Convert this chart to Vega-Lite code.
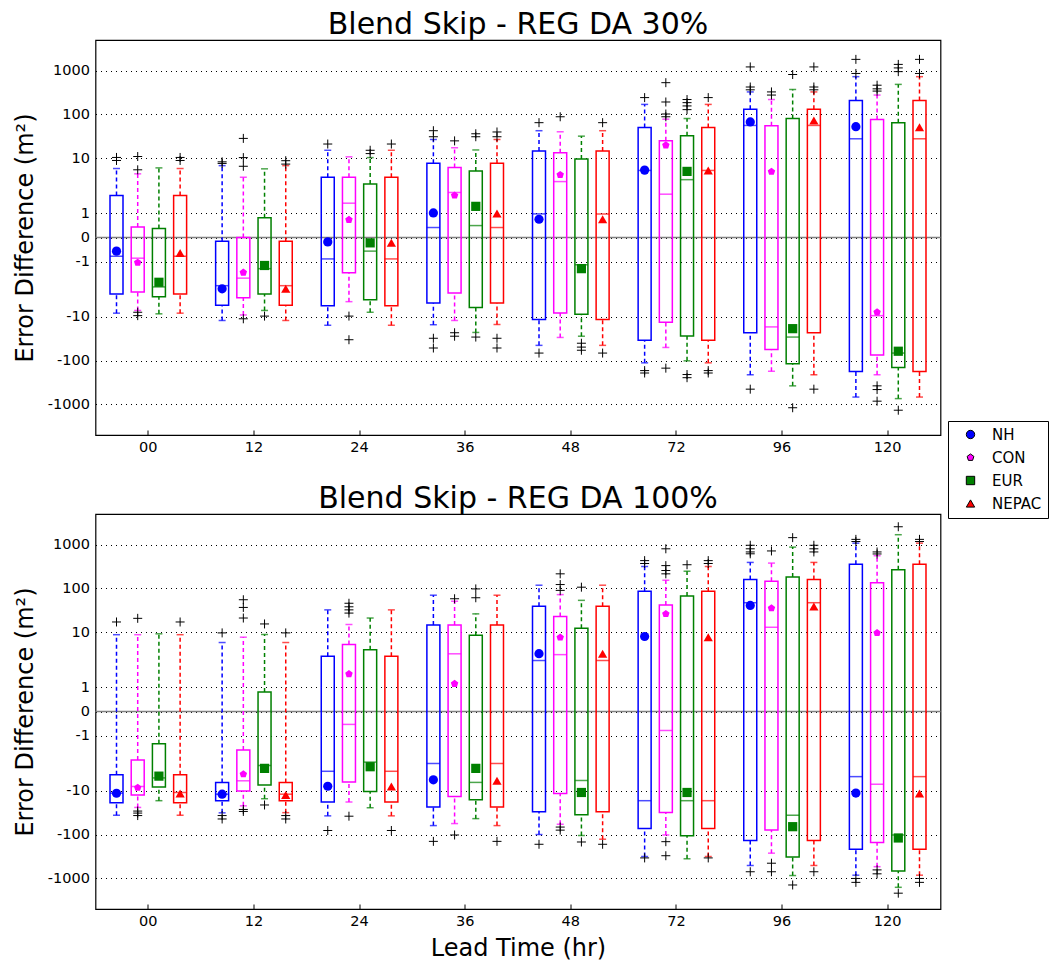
{
  "$schema": "https://vega.github.io/schema/vega-lite/v6.json",
  "background": "white",
  "padding": {"left": 12.5, "top": 9, "right": 112, "bottom": 0},
  "spacing": 28,
  "datasets": {
    "boxes": [
      {"p":"30","t":"00","r":"NH","lo":-8.4,"q1":-3.0,"med":-0.77,"q3":1.73,"hi":5.9,"mean":-0.56},
      {"p":"30","t":"00","r":"CON","lo":-7.2,"q1":-2.74,"med":-0.85,"q3":0.43,"hi":4.5,"mean":-1.03},
      {"p":"30","t":"00","r":"EUR","lo":-8.7,"q1":-3.6,"med":-2.1,"q3":0.37,"hi":6.1,"mean":-1.84},
      {"p":"30","t":"00","r":"NEPAC","lo":-8.4,"q1":-3.0,"med":-0.77,"q3":1.73,"hi":5.9,"mean":-0.64},
      {"p":"30","t":"12","r":"NH","lo":-12.4,"q1":-5.5,"med":-1.98,"q3":-0.15,"hi":6.8,"mean":-2.34},
      {"p":"30","t":"12","r":"CON","lo":-9.2,"q1":-3.8,"med":-1.67,"q3":0.0,"hi":3.8,"mean":-1.44},
      {"p":"30","t":"12","r":"EUR","lo":-7.2,"q1":-3.0,"med":-1.28,"q3":0.81,"hi":5.8,"mean":-1.15},
      {"p":"30","t":"12","r":"NEPAC","lo":-12.4,"q1":-5.5,"med":-1.98,"q3":-0.15,"hi":6.8,"mean":-2.34},
      {"p":"30","t":"24","r":"NH","lo":-15.7,"q1":-5.7,"med":-0.88,"q3":3.8,"hi":15.2,"mean":-0.18},
      {"p":"30","t":"24","r":"CON","lo":-4.6,"q1":-1.45,"med":1.41,"q3":3.8,"hi":10.9,"mean":0.73},
      {"p":"30","t":"24","r":"EUR","lo":-8.0,"q1":-4.2,"med":-0.56,"q3":2.64,"hi":10.4,"mean":-0.22},
      {"p":"30","t":"24","r":"NEPAC","lo":-15.7,"q1":-5.7,"med":-0.88,"q3":3.8,"hi":15.2,"mean":-0.22},
      {"p":"30","t":"36","r":"NH","lo":-15.2,"q1":-4.9,"med":0.41,"q3":7.8,"hi":27.2,"mean":1.01},
      {"p":"30","t":"36","r":"CON","lo":-12.4,"q1":-2.9,"med":1.85,"q3":6.2,"hi":17.5,"mean":1.73},
      {"p":"30","t":"36","r":"EUR","lo":-23.2,"q1":-6.2,"med":0.49,"q3":5.1,"hi":15.5,"mean":1.28},
      {"p":"30","t":"36","r":"NEPAC","lo":-15.0,"q1":-4.9,"med":0.41,"q3":7.8,"hi":27.2,"mean":0.99},
      {"p":"30","t":"48","r":"NH","lo":-45.8,"q1":-11.7,"med":0.97,"q3":14.7,"hi":43.6,"mean":0.75},
      {"p":"30","t":"48","r":"CON","lo":-29.7,"q1":-8.3,"med":2.94,"q3":13.5,"hi":41.4,"mean":4.3},
      {"p":"30","t":"48","r":"EUR","lo":-28.1,"q1":-8.9,"med":-1.12,"q3":9.7,"hi":32.4,"mean":-1.28},
      {"p":"30","t":"48","r":"NEPAC","lo":-45.8,"q1":-11.7,"med":0.97,"q3":14.7,"hi":43.6,"mean":0.75},
      {"p":"30","t":"72","r":"NH","lo":-114.6,"q1":-35.4,"med":5.3,"q3":50.2,"hi":171,"mean":5.4},
      {"p":"30","t":"72","r":"CON","lo":-50.2,"q1":-13.5,"med":1.78,"q3":25.4,"hi":79,"mean":19.8},
      {"p":"30","t":"72","r":"EUR","lo":-101.6,"q1":-27.7,"med":3.3,"q3":33,"hi":81.9,"mean":5.0},
      {"p":"30","t":"72","r":"NEPAC","lo":-114.6,"q1":-35.4,"med":5.3,"q3":50.2,"hi":171,"mean":5.3},
      {"p":"30","t":"96","r":"NH","lo":-213,"q1":-23.6,"med":56.8,"q3":134,"hi":333,"mean":67.7},
      {"p":"30","t":"96","r":"CON","lo":-177,"q1":-56.8,"med":-17.2,"q3":55.8,"hi":222,"mean":4.96},
      {"p":"30","t":"96","r":"EUR","lo":-390,"q1":-120.8,"med":-29.2,"q3":81.9,"hi":383,"mean":-18.8},
      {"p":"30","t":"96","r":"NEPAC","lo":-213,"q1":-23.6,"med":56.8,"q3":134,"hi":333,"mean":72.6},
      {"p":"30","t":"120","r":"NH","lo":-683,"q1":-180,"med":28.1,"q3":210,"hi":732,"mean":52.9},
      {"p":"30","t":"120","r":"CON","lo":-213,"q1":-75,"med":-9.5,"q3":77.7,"hi":280,"mean":-8.0},
      {"p":"30","t":"120","r":"EUR","lo":-745,"q1":-145,"med":-67.7,"q3":65.4,"hi":488,"mean":-62},
      {"p":"30","t":"120","r":"NEPAC","lo":-683,"q1":-180,"med":28.1,"q3":210,"hi":732,"mean":51.1},
      {"p":"100","t":"00","r":"NH","lo":-37.3,"q1":-18.8,"med":-11.5,"q3":-4.4,"hi":8.9,"mean":-11.6},
      {"p":"100","t":"00","r":"CON","lo":-24.5,"q1":-12.8,"med":-8.1,"q3":-1.99,"hi":8.9,"mean":-8.6},
      {"p":"100","t":"00","r":"EUR","lo":-17.0,"q1":-8.3,"med":-5.1,"q3":-1.33,"hi":9.3,"mean":-4.7},
      {"p":"100","t":"00","r":"NEPAC","lo":-37.3,"q1":-18.8,"med":-11.1,"q3":-4.4,"hi":8.9,"mean":-11.7},
      {"p":"100","t":"12","r":"NH","lo":-32.4,"q1":-17.0,"med":-12.2,"q3":-6.5,"hi":5.9,"mean":-12.2},
      {"p":"100","t":"12","r":"CON","lo":-22.4,"q1":-10.2,"med":-6.0,"q3":-1.58,"hi":7.8,"mean":-4.3},
      {"p":"100","t":"12","r":"EUR","lo":-15.2,"q1":-7.4,"med":-2.69,"q3":0.8,"hi":9.0,"mean":-3.1},
      {"p":"100","t":"12","r":"NEPAC","lo":-32.0,"q1":-17.0,"med":-12.2,"q3":-6.5,"hi":5.9,"mean":-12.8},
      {"p":"100","t":"24","r":"NH","lo":-38.6,"q1":-18.2,"med":-3.7,"q3":2.85,"hi":33.0,"mean":-8.0},
      {"p":"100","t":"24","r":"CON","lo":-18.2,"q1":-6.4,"med":-0.53,"q3":5.3,"hi":15.0,"mean":1.54},
      {"p":"100","t":"24","r":"EUR","lo":-24.9,"q1":-10.4,"med":-2.25,"q3":4.1,"hi":21.3,"mean":-2.85},
      {"p":"100","t":"24","r":"NEPAC","lo":-38.6,"q1":-18.2,"med":-3.7,"q3":2.85,"hi":33.0,"mean":-8.1},
      {"p":"100","t":"36","r":"NH","lo":-63.1,"q1":-24.0,"med":-2.43,"q3":14.7,"hi":70,"mean":-5.7},
      {"p":"100","t":"36","r":"CON","lo":-56.8,"q1":-13.7,"med":3.27,"q3":14.7,"hi":51.1,"mean":1.14},
      {"p":"100","t":"36","r":"EUR","lo":-44.3,"q1":-16.1,"med":-6.5,"q3":8.7,"hi":26.7,"mean":-3.1},
      {"p":"100","t":"36","r":"NEPAC","lo":-63.1,"q1":-24.0,"med":-2.43,"q3":14.7,"hi":70,"mean":-6.0},
      {"p":"100","t":"48","r":"NH","lo":-99.8,"q1":-30.2,"med":2.3,"q3":40.6,"hi":120.8,"mean":3.3},
      {"p":"100","t":"48","r":"CON","lo":-58.9,"q1":-11.7,"med":3.1,"q3":23.2,"hi":72.6,"mean":7.7},
      {"p":"100","t":"48","r":"EUR","lo":-106,"q1":-36.1,"med":-5.9,"q3":12.6,"hi":53.9,"mean":-11.1},
      {"p":"100","t":"48","r":"NEPAC","lo":-130,"q1":-30.2,"med":2.3,"q3":40.6,"hi":120.8,"mean":3.3},
      {"p":"100","t":"72","r":"NH","lo":-321,"q1":-72.6,"med":-17.0,"q3":88,"hi":321,"mean":8.1},
      {"p":"100","t":"72","r":"CON","lo":-102.7,"q1":-31.9,"med":-0.78,"q3":42.9,"hi":154,"mean":26.7},
      {"p":"100","t":"72","r":"EUR","lo":-368,"q1":-108,"med":-17.0,"q3":67.7,"hi":252,"mean":-11.1},
      {"p":"100","t":"72","r":"NEPAC","lo":-321,"q1":-72.6,"med":-17.0,"q3":88,"hi":321,"mean":7.8},
      {"p":"100","t":"96","r":"NH","lo":-509,"q1":-139,"med":47.7,"q3":162,"hi":405,"mean":42.1},
      {"p":"100","t":"96","r":"CON","lo":-270,"q1":-79.3,"med":13.2,"q3":146,"hi":391,"mean":36.6},
      {"p":"100","t":"96","r":"EUR","lo":-874,"q1":-333,"med":-37.3,"q3":183,"hi":890,"mean":-66.5},
      {"p":"100","t":"96","r":"NEPAC","lo":-509,"q1":-139,"med":47.7,"q3":162,"hi":405,"mean":40},
      {"p":"100","t":"120","r":"NH","lo":-859,"q1":-218,"med":-4.8,"q3":368,"hi":1094,"mean":-11.5},
      {"p":"100","t":"120","r":"CON","lo":-546,"q1":-151,"med":-7.1,"q3":137,"hi":565,"mean":9.7},
      {"p":"100","t":"120","r":"EUR","lo":-1610,"q1":-683,"med":-102.7,"q3":270,"hi":1700,"mean":-122},
      {"p":"100","t":"120","r":"NEPAC","lo":-859,"q1":-218,"med":-4.8,"q3":368,"hi":1094,"mean":-11.8}
    ],
    "outliers": [
      {"p":"30","t":"00","r":"NH","v":10.5},{"p":"30","t":"00","r":"NH","v":9.0},
      {"p":"30","t":"00","r":"CON","v":11.1},{"p":"30","t":"00","r":"CON","v":5.5},{"p":"30","t":"00","r":"CON","v":-8.0},{"p":"30","t":"00","r":"CON","v":-9.5},
      {"p":"30","t":"00","r":"NEPAC","v":10.5},{"p":"30","t":"00","r":"NEPAC","v":9.0},
      {"p":"30","t":"12","r":"NH","v":8.4},{"p":"30","t":"12","r":"NH","v":7.7},
      {"p":"30","t":"12","r":"CON","v":28.6},{"p":"30","t":"12","r":"CON","v":10.4},{"p":"30","t":"12","r":"CON","v":6.6},{"p":"30","t":"12","r":"CON","v":-11.3},
      {"p":"30","t":"12","r":"EUR","v":-9.7},
      {"p":"30","t":"12","r":"NEPAC","v":8.9},{"p":"30","t":"12","r":"NEPAC","v":7.4},
      {"p":"30","t":"24","r":"NH","v":21.3},
      {"p":"30","t":"24","r":"CON","v":-9.7},{"p":"30","t":"24","r":"CON","v":-34.2},
      {"p":"30","t":"24","r":"EUR","v":15.2},{"p":"30","t":"24","r":"EUR","v":13.0},
      {"p":"30","t":"24","r":"NEPAC","v":21.3},
      {"p":"30","t":"36","r":"NH","v":43.6},{"p":"30","t":"36","r":"NH","v":31.2},{"p":"30","t":"36","r":"NH","v":-31.2},{"p":"30","t":"36","r":"NH","v":-51.9},
      {"p":"30","t":"36","r":"CON","v":25.4},{"p":"30","t":"36","r":"CON","v":-23.6},{"p":"30","t":"36","r":"CON","v":-28.1},
      {"p":"30","t":"36","r":"EUR","v":37.3},{"p":"30","t":"36","r":"EUR","v":31.2},{"p":"30","t":"36","r":"EUR","v":-29.2},
      {"p":"30","t":"36","r":"NEPAC","v":41.0},{"p":"30","t":"36","r":"NEPAC","v":31.2},{"p":"30","t":"36","r":"NEPAC","v":-31.2},{"p":"30","t":"36","r":"NEPAC","v":-51.9},
      {"p":"30","t":"48","r":"NH","v":65.4},{"p":"30","t":"48","r":"NH","v":-67.7},
      {"p":"30","t":"48","r":"CON","v":89.6},
      {"p":"30","t":"48","r":"EUR","v":-41.4},{"p":"30","t":"48","r":"EUR","v":-49.4},{"p":"30","t":"48","r":"EUR","v":-58.9},
      {"p":"30","t":"48","r":"NEPAC","v":65.4},{"p":"30","t":"48","r":"NEPAC","v":-67.7},
      {"p":"30","t":"72","r":"NH","v":247},{"p":"30","t":"72","r":"NH","v":-171},{"p":"30","t":"72","r":"NH","v":-193},
      {"p":"30","t":"72","r":"CON","v":535},{"p":"30","t":"72","r":"CON","v":193},{"p":"30","t":"72","r":"CON","v":102.7},{"p":"30","t":"72","r":"CON","v":89.6},{"p":"30","t":"72","r":"CON","v":-149},
      {"p":"30","t":"72","r":"EUR","v":222},{"p":"30","t":"72","r":"EUR","v":187},{"p":"30","t":"72","r":"EUR","v":157},{"p":"30","t":"72","r":"EUR","v":131},{"p":"30","t":"72","r":"EUR","v":-210},{"p":"30","t":"72","r":"EUR","v":-251},
      {"p":"30","t":"72","r":"NEPAC","v":247},{"p":"30","t":"72","r":"NEPAC","v":-171},{"p":"30","t":"72","r":"NEPAC","v":-193},
      {"p":"30","t":"96","r":"NH","v":1239},{"p":"30","t":"96","r":"NH","v":434},{"p":"30","t":"96","r":"NH","v":376},{"p":"30","t":"96","r":"NH","v":-458},
      {"p":"30","t":"96","r":"CON","v":333},{"p":"30","t":"96","r":"CON","v":280},
      {"p":"30","t":"96","r":"EUR","v":828},{"p":"30","t":"96","r":"EUR","v":-1218},
      {"p":"30","t":"96","r":"NEPAC","v":1239},{"p":"30","t":"96","r":"NEPAC","v":434},{"p":"30","t":"96","r":"NEPAC","v":376},{"p":"30","t":"96","r":"NEPAC","v":-458},
      {"p":"30","t":"120","r":"NH","v":1823},{"p":"30","t":"120","r":"NH","v":874},
      {"p":"30","t":"120","r":"CON","v":471},{"p":"30","t":"120","r":"CON","v":396},{"p":"30","t":"120","r":"CON","v":350},{"p":"30","t":"120","r":"CON","v":-390},{"p":"30","t":"120","r":"CON","v":-466},{"p":"30","t":"120","r":"CON","v":-858},
      {"p":"30","t":"120","r":"EUR","v":1403},{"p":"30","t":"120","r":"EUR","v":1175},{"p":"30","t":"120","r":"EUR","v":955},{"p":"30","t":"120","r":"EUR","v":-1378},
      {"p":"30","t":"120","r":"NEPAC","v":1823},{"p":"30","t":"120","r":"NEPAC","v":874},
      {"p":"100","t":"00","r":"NH","v":17.3},
      {"p":"100","t":"00","r":"CON","v":20.9},{"p":"100","t":"00","r":"CON","v":-29.2},{"p":"100","t":"00","r":"CON","v":-32.9},{"p":"100","t":"00","r":"CON","v":-38.0},
      {"p":"100","t":"00","r":"NEPAC","v":17.3},
      {"p":"100","t":"12","r":"NH","v":9.7},{"p":"100","t":"12","r":"NH","v":-38.0},{"p":"100","t":"12","r":"NH","v":-45.0},
      {"p":"100","t":"12","r":"CON","v":55.8},{"p":"100","t":"12","r":"CON","v":38.0},{"p":"100","t":"12","r":"CON","v":21.3},{"p":"100","t":"12","r":"CON","v":-27.1},{"p":"100","t":"12","r":"CON","v":-29.7},
      {"p":"100","t":"12","r":"EUR","v":15.5},{"p":"100","t":"12","r":"EUR","v":-21.3},
      {"p":"100","t":"12","r":"NEPAC","v":9.7},{"p":"100","t":"12","r":"NEPAC","v":-38.0},{"p":"100","t":"12","r":"NEPAC","v":-45.0},
      {"p":"100","t":"24","r":"NH","v":-81.9},
      {"p":"100","t":"24","r":"CON","v":46.6},{"p":"100","t":"24","r":"CON","v":39.3},{"p":"100","t":"24","r":"CON","v":33.0},{"p":"100","t":"24","r":"CON","v":27.7},{"p":"100","t":"24","r":"CON","v":-39.3},
      {"p":"100","t":"24","r":"NEPAC","v":-81.9},
      {"p":"100","t":"36","r":"NH","v":-144},
      {"p":"100","t":"36","r":"CON","v":58.9},{"p":"100","t":"36","r":"CON","v":-102.7},
      {"p":"100","t":"36","r":"EUR","v":97.8},{"p":"100","t":"36","r":"EUR","v":62.0},
      {"p":"100","t":"36","r":"NEPAC","v":-144},
      {"p":"100","t":"48","r":"NH","v":-168},
      {"p":"100","t":"48","r":"CON","v":218},{"p":"100","t":"48","r":"CON","v":125},{"p":"100","t":"48","r":"CON","v":91.3},{"p":"100","t":"48","r":"CON","v":-67.7},{"p":"100","t":"48","r":"CON","v":-80.3},
      {"p":"100","t":"48","r":"EUR","v":108},{"p":"100","t":"48","r":"EUR","v":-148},
      {"p":"100","t":"48","r":"NEPAC","v":-168},
      {"p":"100","t":"72","r":"NH","v":442},{"p":"100","t":"72","r":"NH","v":383},{"p":"100","t":"72","r":"NH","v":-350},
      {"p":"100","t":"72","r":"CON","v":815},{"p":"100","t":"72","r":"CON","v":339},{"p":"100","t":"72","r":"CON","v":261},{"p":"100","t":"72","r":"CON","v":218},{"p":"100","t":"72","r":"CON","v":-146},{"p":"100","t":"72","r":"CON","v":-305},
      {"p":"100","t":"72","r":"EUR","v":357},
      {"p":"100","t":"72","r":"NEPAC","v":442},{"p":"100","t":"72","r":"NEPAC","v":383},{"p":"100","t":"72","r":"NEPAC","v":-350},
      {"p":"100","t":"96","r":"NH","v":971},{"p":"100","t":"96","r":"NH","v":815},{"p":"100","t":"96","r":"NH","v":683},{"p":"100","t":"96","r":"NH","v":625},{"p":"100","t":"96","r":"NH","v":-707},
      {"p":"100","t":"96","r":"CON","v":720},{"p":"100","t":"96","r":"CON","v":-459},{"p":"100","t":"96","r":"CON","v":-707},
      {"p":"100","t":"96","r":"EUR","v":1452},{"p":"100","t":"96","r":"EUR","v":-1428},
      {"p":"100","t":"96","r":"NEPAC","v":971},{"p":"100","t":"96","r":"NEPAC","v":815},{"p":"100","t":"96","r":"NEPAC","v":683},{"p":"100","t":"96","r":"NEPAC","v":-707},
      {"p":"100","t":"120","r":"NH","v":1340},{"p":"100","t":"120","r":"NH","v":1200},{"p":"100","t":"120","r":"NH","v":-1005},{"p":"100","t":"120","r":"NH","v":-1258},
      {"p":"100","t":"120","r":"CON","v":683},{"p":"100","t":"120","r":"CON","v":620},{"p":"100","t":"120","r":"CON","v":-647},{"p":"100","t":"120","r":"CON","v":-799},
      {"p":"100","t":"120","r":"EUR","v":2606},{"p":"100","t":"120","r":"EUR","v":-2208},
      {"p":"100","t":"120","r":"NEPAC","v":1340},{"p":"100","t":"120","r":"NEPAC","v":1200},{"p":"100","t":"120","r":"NEPAC","v":-1005},{"p":"100","t":"120","r":"NEPAC","v":-1258}
    ],
    "zero": [{"z": 0}]
  },
  "resolve": {"scale": {"color": "shared", "shape": "shared", "stroke": "shared", "fill": "shared"}, "legend": {"color": "shared", "shape": "shared"}},
  "vconcat": [
    {
      "width": 845, "height": 395,
      "title": {"text": "Blend Skip - REG DA 30%", "frame": "group", "anchor": "middle", "baseline": "bottom", "offset": -30},
      "layer": [
        {"data": {"name": "zero"}, "mark": {"type": "rule", "color": "#808080", "strokeWidth": 1.3},
         "encoding": {"y": {"field": "z", "type": "quantitative", "title": "Error Difference (m²)",
           "scale": {"domain": [-5000,-3000,-2000,-1500,-1000,-700,-500,-300,-200,-150,-100,-70,-50,-30,-20,-15,-10,-7,-5,-3,-2,0,2,3,5,7,10,15,20,30,50,70,100,150,200,300,500,700,1000,1500,2000,3000,5000],
             "range": [395,385.28,377.57,372.1,364.38,357.6,351.2,341.48,333.77,328.3,320.58,313.8,307.4,297.68,289.97,284.5,276.78,270,263.6,253.88,246.17,197.5,148.83,141.12,131.4,125,118.22,110.5,105.03,97.32,87.6,81.2,74.42,66.7,61.23,53.52,43.8,37.4,30.62,22.9,17.43,9.72,0],
             "nice": false, "zero": false, "clamp": true},
           "axis": {"values": [-1000,-100,-10,-1,0,1,10,100,1000], "labelExpr": "'' + datum.value"}}}},
        {"data": {"name": "boxes"}, "transform": [{"filter": "datum.p == '30'"}],
         "mark": {"type": "rule", "strokeDash": [4, 3], "strokeWidth": 1.5},
         "encoding": {
           "x": {"field": "t", "type": "nominal", "title": null, "scale": {"domain": ["00","12","24","36","48","72","96","120"], "paddingInner": 0, "paddingOuter": 0}},
           "xOffset": {"field": "r", "type": "nominal", "scale": {"domain": ["NH","CON","EUR","NEPAC"], "paddingInner": 0.387, "paddingOuter": 0.684}},
           "y": {"field": "lo", "type": "quantitative", "title": "Error Difference (m²)"}, "y2": {"field": "q1"},
           "stroke": {"field": "r", "type": "nominal", "scale": {"range": ["#ff00ff","#008000","#ff0000","#0000ff"]}, "legend": null}}},
        {"data": {"name": "boxes"}, "transform": [{"filter": "datum.p == '30'"}],
         "mark": {"type": "rule", "strokeDash": [4, 3], "strokeWidth": 1.5},
         "encoding": {
           "x": {"field": "t", "type": "nominal", "title": null},
           "xOffset": {"field": "r", "type": "nominal"},
           "y": {"field": "q3", "type": "quantitative", "title": "Error Difference (m²)"}, "y2": {"field": "hi"},
           "stroke": {"field": "r", "type": "nominal", "legend": null}}},
        {"data": {"name": "boxes"}, "transform": [{"filter": "datum.p == '30'"}],
         "mark": {"type": "tick", "orient": "horizontal", "size": 7, "thickness": 1.5},
         "encoding": {
           "x": {"field": "t", "type": "nominal", "title": null},
           "xOffset": {"field": "r", "type": "nominal"},
           "y": {"field": "lo", "type": "quantitative", "title": "Error Difference (m²)"},
           "fill": {"field": "r", "type": "nominal", "scale": {"range": ["#ff00ff","#008000","#ff0000","#0000ff"]}, "legend": null}}},
        {"data": {"name": "boxes"}, "transform": [{"filter": "datum.p == '30'"}],
         "mark": {"type": "tick", "orient": "horizontal", "size": 7, "thickness": 1.5},
         "encoding": {
           "x": {"field": "t", "type": "nominal", "title": null},
           "xOffset": {"field": "r", "type": "nominal"},
           "y": {"field": "hi", "type": "quantitative", "title": "Error Difference (m²)"},
           "fill": {"field": "r", "type": "nominal", "legend": null}}},
        {"data": {"name": "boxes"}, "transform": [{"filter": "datum.p == '30'"}],
         "mark": {"type": "bar", "fill": "transparent", "strokeWidth": 1.5},
         "encoding": {
           "x": {"field": "t", "type": "nominal", "title": null},
           "xOffset": {"field": "r", "type": "nominal"},
           "y": {"field": "q1", "type": "quantitative", "title": "Error Difference (m²)"}, "y2": {"field": "q3"},
           "stroke": {"field": "r", "type": "nominal", "legend": null}}},
        {"data": {"name": "boxes"}, "transform": [{"filter": "datum.p == '30'"}],
         "mark": {"type": "tick", "orient": "horizontal", "size": 13, "thickness": 1.5},
         "encoding": {
           "x": {"field": "t", "type": "nominal", "title": null},
           "xOffset": {"field": "r", "type": "nominal"},
           "y": {"field": "med", "type": "quantitative", "title": "Error Difference (m²)"},
           "fill": {"field": "r", "type": "nominal", "legend": null}}},
        {"data": {"name": "outliers"}, "transform": [{"filter": "datum.p == '30'"}],
         "mark": {"type": "point", "shape": "M-1,0L1,0M0,-1L0,1", "filled": false, "color": "black", "strokeWidth": 1, "size": 81, "opacity": 1},
         "encoding": {
           "x": {"field": "t", "type": "nominal", "title": null},
           "xOffset": {"field": "r", "type": "nominal"},
           "y": {"field": "v", "type": "quantitative", "title": "Error Difference (m²)"}}},
        {"data": {"name": "boxes"}, "transform": [{"filter": "datum.p == '30'"}],
         "mark": {"type": "point", "filled": true, "size": 85, "opacity": 1},
         "encoding": {
           "x": {"field": "t", "type": "nominal", "title": null},
           "xOffset": {"field": "r", "type": "nominal"},
           "y": {"field": "mean", "type": "quantitative", "title": "Error Difference (m²)"},
           "color": {"field": "r", "type": "nominal", "title": null, "scale": {"domain": ["NH","CON","EUR","NEPAC"], "range": ["#0000ff","#ff00ff","#008000","#ff0000"]}},
           "shape": {"field": "r", "type": "nominal", "title": null, "scale": {"domain": ["NH","CON","EUR","NEPAC"], "range": ["circle", "M0,-0.85L0.808,-0.263L0.5,0.688L-0.5,0.688L-0.808,-0.263Z", "square", "triangle-up"]}}}}
      ]
    },
    {
      "width": 845, "height": 395,
      "title": {"text": "Blend Skip - REG DA 100%", "frame": "group", "anchor": "middle", "baseline": "bottom", "offset": -30},
      "layer": [
        {"data": {"name": "zero"}, "mark": {"type": "rule", "color": "#808080", "strokeWidth": 1.3},
         "encoding": {"y": {"field": "z", "type": "quantitative", "title": "Error Difference (m²)",
           "scale": {"domain": [-5000,-3000,-2000,-1500,-1000,-700,-500,-300,-200,-150,-100,-70,-50,-30,-20,-15,-10,-7,-5,-3,-2,0,2,3,5,7,10,15,20,30,50,70,100,150,200,300,500,700,1000,1500,2000,3000,5000],
             "range": [395,385.28,377.57,372.1,364.38,357.6,351.2,341.48,333.77,328.3,320.58,313.8,307.4,297.68,289.97,284.5,276.78,270,263.6,253.88,246.17,197.5,148.83,141.12,131.4,125,118.22,110.5,105.03,97.32,87.6,81.2,74.42,66.7,61.23,53.52,43.8,37.4,30.62,22.9,17.43,9.72,0],
             "nice": false, "zero": false, "clamp": true},
           "axis": {"values": [-1000,-100,-10,-1,0,1,10,100,1000], "labelExpr": "'' + datum.value"}}}},
        {"data": {"name": "boxes"}, "transform": [{"filter": "datum.p == '100'"}],
         "mark": {"type": "rule", "strokeDash": [4, 3], "strokeWidth": 1.5},
         "encoding": {
           "x": {"field": "t", "type": "nominal", "title": "Lead Time (hr)", "scale": {"domain": ["00","12","24","36","48","72","96","120"], "paddingInner": 0, "paddingOuter": 0}},
           "xOffset": {"field": "r", "type": "nominal", "scale": {"domain": ["NH","CON","EUR","NEPAC"], "paddingInner": 0.387, "paddingOuter": 0.684}},
           "y": {"field": "lo", "type": "quantitative", "title": "Error Difference (m²)"}, "y2": {"field": "q1"},
           "stroke": {"field": "r", "type": "nominal", "scale": {"range": ["#ff00ff","#008000","#ff0000","#0000ff"]}, "legend": null}}},
        {"data": {"name": "boxes"}, "transform": [{"filter": "datum.p == '100'"}],
         "mark": {"type": "rule", "strokeDash": [4, 3], "strokeWidth": 1.5},
         "encoding": {
           "x": {"field": "t", "type": "nominal", "title": "Lead Time (hr)"},
           "xOffset": {"field": "r", "type": "nominal"},
           "y": {"field": "q3", "type": "quantitative", "title": "Error Difference (m²)"}, "y2": {"field": "hi"},
           "stroke": {"field": "r", "type": "nominal", "legend": null}}},
        {"data": {"name": "boxes"}, "transform": [{"filter": "datum.p == '100'"}],
         "mark": {"type": "tick", "orient": "horizontal", "size": 7, "thickness": 1.5},
         "encoding": {
           "x": {"field": "t", "type": "nominal", "title": "Lead Time (hr)"},
           "xOffset": {"field": "r", "type": "nominal"},
           "y": {"field": "lo", "type": "quantitative", "title": "Error Difference (m²)"},
           "fill": {"field": "r", "type": "nominal", "scale": {"range": ["#ff00ff","#008000","#ff0000","#0000ff"]}, "legend": null}}},
        {"data": {"name": "boxes"}, "transform": [{"filter": "datum.p == '100'"}],
         "mark": {"type": "tick", "orient": "horizontal", "size": 7, "thickness": 1.5},
         "encoding": {
           "x": {"field": "t", "type": "nominal", "title": "Lead Time (hr)"},
           "xOffset": {"field": "r", "type": "nominal"},
           "y": {"field": "hi", "type": "quantitative", "title": "Error Difference (m²)"},
           "fill": {"field": "r", "type": "nominal", "legend": null}}},
        {"data": {"name": "boxes"}, "transform": [{"filter": "datum.p == '100'"}],
         "mark": {"type": "bar", "fill": "transparent", "strokeWidth": 1.5},
         "encoding": {
           "x": {"field": "t", "type": "nominal", "title": "Lead Time (hr)"},
           "xOffset": {"field": "r", "type": "nominal"},
           "y": {"field": "q1", "type": "quantitative", "title": "Error Difference (m²)"}, "y2": {"field": "q3"},
           "stroke": {"field": "r", "type": "nominal", "legend": null}}},
        {"data": {"name": "boxes"}, "transform": [{"filter": "datum.p == '100'"}],
         "mark": {"type": "tick", "orient": "horizontal", "size": 13, "thickness": 1.5},
         "encoding": {
           "x": {"field": "t", "type": "nominal", "title": "Lead Time (hr)"},
           "xOffset": {"field": "r", "type": "nominal"},
           "y": {"field": "med", "type": "quantitative", "title": "Error Difference (m²)"},
           "fill": {"field": "r", "type": "nominal", "legend": null}}},
        {"data": {"name": "outliers"}, "transform": [{"filter": "datum.p == '100'"}],
         "mark": {"type": "point", "shape": "M-1,0L1,0M0,-1L0,1", "filled": false, "color": "black", "strokeWidth": 1, "size": 81, "opacity": 1},
         "encoding": {
           "x": {"field": "t", "type": "nominal", "title": "Lead Time (hr)"},
           "xOffset": {"field": "r", "type": "nominal"},
           "y": {"field": "v", "type": "quantitative", "title": "Error Difference (m²)"}}},
        {"data": {"name": "boxes"}, "transform": [{"filter": "datum.p == '100'"}],
         "mark": {"type": "point", "filled": true, "size": 85, "opacity": 1},
         "encoding": {
           "x": {"field": "t", "type": "nominal", "title": "Lead Time (hr)"},
           "xOffset": {"field": "r", "type": "nominal"},
           "y": {"field": "mean", "type": "quantitative", "title": "Error Difference (m²)"},
           "color": {"field": "r", "type": "nominal", "title": null},
           "shape": {"field": "r", "type": "nominal", "title": null}}}
      ]
    }
  ],
  "config": {
    "font": "DejaVu Sans",
    "legend": {"orient": "none", "legendX": 852.5, "legendY": 381, "title": null, "strokeColor": "black", "fillColor": "white", "padding": 6, "labelFontSize": 15, "labelFont": "DejaVu Sans", "labelColor": "black", "symbolSize": 70, "rowPadding": 7, "symbolOffset": 9, "labelOffset": 14, "symbolStrokeColor": "black", "symbolStrokeWidth": 1, "cornerRadius": 0},
    "view": {"stroke": "black", "strokeWidth": 1.2},
    "title": {"font": "DejaVu Sans", "fontSize": 30, "fontWeight": "normal", "color": "black"},
    "axis": {"labelFont": "DejaVu Sans", "labelFontSize": 14.5, "labelColor": "black", "titleFont": "DejaVu Sans", "titleFontSize": 24, "titleFontWeight": "normal", "titleColor": "black", "domain": false, "tickColor": "black"},
    "axisY": {"grid": true, "gridColor": "black", "gridDash": [1, 4], "gridOpacity": 1, "gridWidth": 1, "ticks": false, "labelPadding": 6, "titlePadding": 10},
    "axisX": {"grid": false, "labelAngle": 0, "tickSize": -5, "tickWidth": 1, "labelPadding": 10, "titlePadding": 9}
  }
}
